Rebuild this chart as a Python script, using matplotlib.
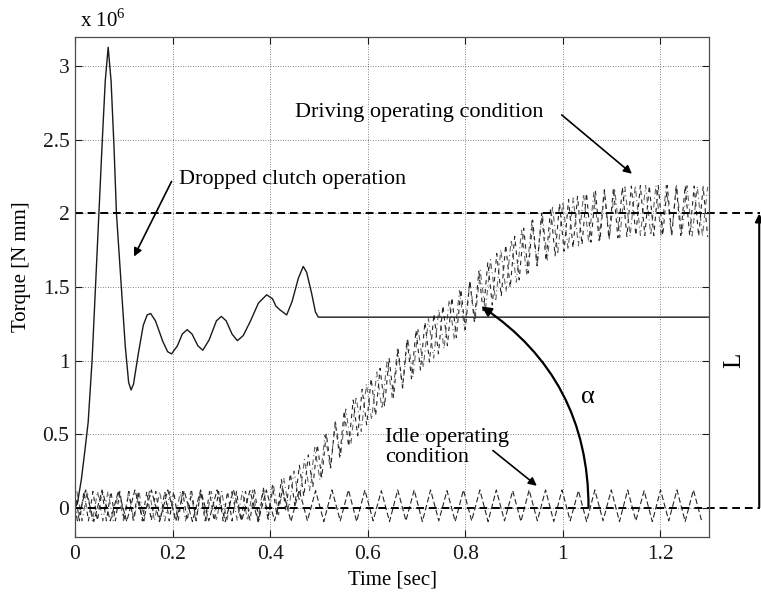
import numpy as np
import matplotlib
matplotlib.use('Agg')
import matplotlib.pyplot as plt

plt.rcParams['font.family'] = ['Liberation Serif', 'DejaVu Serif']

# torque values are in units of 10^6 N mm
# dropped clutch operation
clutch_t = [0.0, 0.005, 0.013, 0.020, 0.027, 0.035, 0.042, 0.049, 0.056, 0.062, 0.068,
            0.074, 0.080, 0.085, 0.095, 0.103, 0.110, 0.115, 0.120, 0.130, 0.140, 0.148,
            0.155, 0.165, 0.180, 0.190, 0.198, 0.210, 0.220, 0.230, 0.240, 0.252, 0.262,
            0.275, 0.290, 0.300, 0.310, 0.322, 0.333, 0.345, 0.360, 0.376, 0.393, 0.405,
            0.412, 0.420, 0.434, 0.445, 0.458, 0.468, 0.475, 0.485, 0.493, 0.499, 1.300]
clutch_v = [0.0, 0.03, 0.19, 0.38, 0.58, 1.00, 1.50, 2.00, 2.50, 2.90, 3.13,
            2.90, 2.45, 2.00, 1.50, 1.10, 0.85, 0.80, 0.84, 1.05, 1.24, 1.31,
            1.32, 1.27, 1.13, 1.06, 1.045, 1.10, 1.18, 1.21, 1.18, 1.10, 1.07,
            1.14, 1.27, 1.30, 1.27, 1.18, 1.135, 1.17, 1.27, 1.39, 1.447, 1.42,
            1.37, 1.345, 1.31, 1.40, 1.56, 1.64, 1.60, 1.46, 1.33, 1.295, 1.295]

# idle operating condition: ripple vertices
idle_start = 0.005
idle_step = 0.01684
idle_v = [-0.09, 0.12, -0.095, 0.12, -0.09, 0.115, -0.095, 0.12, -0.09, 0.12,
          -0.095, 0.12, -0.09, 0.115, -0.095, 0.12, -0.09, 0.12, -0.095, 0.12,
          -0.09, 0.115, -0.095, 0.12, -0.09, 0.12, -0.095, 0.12, -0.09, 0.115,
          -0.095, 0.12, -0.09, 0.12, -0.095, 0.12, -0.09, 0.115, -0.095, 0.12,
          -0.09, 0.12, -0.095, 0.12, -0.09, 0.115, -0.095, 0.12, -0.09, 0.12,
          -0.095, 0.12, -0.09, 0.115, -0.095, 0.12, -0.09, 0.12, -0.095, 0.12,
          -0.09, 0.115, -0.095, 0.12, -0.09, 0.12, -0.095, 0.12, -0.09, 0.115,
          -0.095, 0.12, -0.09, 0.12, -0.095, 0.12, -0.09]
idle_t = idle_start + idle_step * np.arange(len(idle_v))

# driving operating condition: band centre and half width
drive_t = [0.0, 0.35, 0.40, 0.45, 0.50, 0.55, 0.60, 0.65, 0.70, 0.75, 0.80,
           0.85, 0.90, 0.95, 1.00, 1.05, 1.10, 1.15, 1.20, 1.25, 1.30]
drive_mid = [0.01, 0.01, 0.03, 0.13, 0.31, 0.51, 0.71, 0.89, 1.06, 1.21, 1.36,
             1.52, 1.68, 1.82, 1.91, 1.97, 2.00, 2.02, 2.02, 2.02, 2.01]
drive_half = [0.10, 0.10, 0.11, 0.12, 0.13, 0.14, 0.14, 0.15, 0.15, 0.15, 0.15,
              0.16, 0.16, 0.17, 0.17, 0.17, 0.17, 0.17, 0.17, 0.17, 0.17]

x_ticks = [0, 0.2, 0.4, 0.6, 0.8, 1.0, 1.2]
y_ticks = [0, 0.5, 1.0, 1.5, 2.0, 2.5, 3.0]
L_level = 2.0


def ripple(step, shift):
    t = np.arange(shift, 1.3 + 1e-9, step)
    sign = np.where(np.arange(len(t)) % 2 == 0, 1.0, -1.0)
    v = np.interp(t, drive_t, drive_mid) + sign * np.interp(t, drive_t, drive_half)
    return t, v


fig = plt.figure(figsize=(7.61, 5.96), dpi=100)
ax = fig.add_axes([75 / 761, 59 / 596, 634 / 761, 500 / 596])

# driving condition ripples
ta, va = ripple(0.0092, 0.0)
tb, vb = ripple(0.0106, 0.004)
ax.plot(tb, vb, color='0.4', lw=0.8, ls=(0, (5, 3, 1, 3)))
ax.plot(ta, va, color='0.15', lw=0.8, ls=(0, (4, 4)))

# idle condition
ax.plot(np.r_[0.0, idle_t], np.r_[0.0, idle_v], color='0.15', lw=0.8, ls=(0, (5, 2.5)))

# dropped clutch
ax.plot(clutch_t, clutch_v, color='0.1', lw=1.0)

# reference levels running out to the L arrow
x_end = 1.405
ax.plot([0, x_end], [0, 0], color='k', lw=1.4, ls=(0, (4, 2.5)), clip_on=False)
ax.plot([0, x_end], [L_level, L_level], color='k', lw=1.4, ls=(0, (4, 2.5)), clip_on=False)
ax.annotate('', xy=(1.403, L_level), xytext=(1.403, 0), annotation_clip=False,
            arrowprops=dict(arrowstyle='-|>', color='k', lw=1.5, mutation_scale=12,
                            shrinkA=0, shrinkB=0))
ax.text(1.352, 1.0, 'L', rotation=90, fontsize=18, ha='center', va='center', clip_on=False)

# angle arrow
ax.annotate('', xy=(0.834, 1.367), xytext=(1.053, 0.0),
            arrowprops=dict(arrowstyle='-|>', color='k', lw=1.6, mutation_scale=14,
                            shrinkA=0, shrinkB=0,
                            connectionstyle='angle3,angleA=90,angleB=146'))
ax.text(1.052, 0.75, 'α', fontsize=19, ha='center', va='center')

arrow_kw = dict(arrowstyle='-|>', color='k', lw=1.2, mutation_scale=12, shrinkA=0, shrinkB=0)
ax.text(0.213, 2.23, 'Dropped clutch operation', fontsize=16, ha='left', va='center')
ax.annotate('', xy=(0.121, 1.707), xytext=(0.198, 2.218), arrowprops=arrow_kw)

ax.text(0.96, 2.685, 'Driving operating condition', fontsize=16, ha='right', va='center')
ax.annotate('', xy=(1.142, 2.27), xytext=(0.998, 2.67), arrowprops=arrow_kw)

ax.text(0.636, 0.41, 'Idle operating\ncondition', fontsize=16, ha='left', va='center',
        linespacing=1.1)
ax.annotate('', xy=(0.947, 0.148), xytext=(0.857, 0.388), arrowprops=arrow_kw)

# axes styling
ax.set_xlim(0, 1.3)
ax.set_ylim(-0.2, 3.2)
ax.set_xticks(x_ticks)
ax.set_yticks(y_ticks)
ax.set_xticklabels(['%g' % v for v in x_ticks])
ax.set_yticklabels(['%g' % v for v in y_ticks])
ax.tick_params(direction='in', length=5, width=0.8, top=True, right=True,
               labelsize=15.5, colors='0.1')
ax.tick_params(axis='x', pad=6)
ax.tick_params(axis='y', pad=4)
ax.grid(True, color='0.35', lw=0.6, ls=(0, (1, 2)))
for s in ax.spines.values():
    s.set_color('0.3')
    s.set_linewidth(0.9)

ax.set_xlabel('Time [sec]', fontsize=15)
ax.set_ylabel('Torque [N mm]', fontsize=15)
ax.xaxis.set_label_coords(0.5, -0.068)
ax.yaxis.set_label_coords(-0.07, 0.54)
ax.text(0.008, 1.01, r'x 10$^{\mathregular{6}}$', transform=ax.transAxes,
        fontsize=15, ha='left', va='bottom')

fig.savefig('out.png', dpi=100)
